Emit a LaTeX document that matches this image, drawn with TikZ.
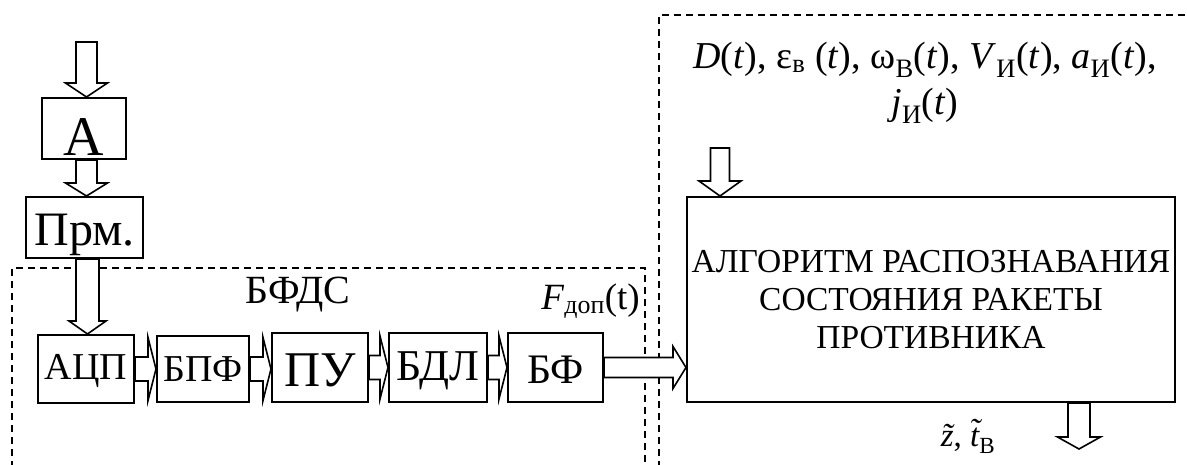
\documentclass[tikz,border=0pt]{standalone}
\usepackage{fontspec}
\setmainfont{Liberation Serif}
\usetikzlibrary{calc}
\tikzset{
  blk/.style={draw, line width=2pt, inner sep=0pt, text depth=0pt},
  arr/.style={draw, line width=1.6pt, fill=white, line join=miter},
  dsh/.style={draw, line width=1.3pt, dash pattern=on 7pt off 5pt},
  lbl/.style={inner sep=0pt},
}
% tilde over a letter
\newcommand\tld[2][0pt]{{\ooalign{#2\cr\hidewidth\raisebox{#1}{˜}\hidewidth\cr}}}
% vertical block arrow: start, tip, shaft half width, head half width, head length
\newcommand\vblock[5]{%
  \path[arr] let \p1=(#1), \p2=(#2) in
    (\x1-#3,\y1) -- (\x1-#3,\y2+#5) -- (\x1-#4,\y2+#5) -- (\x1,\y2)
    -- (\x1+#4,\y2+#5) -- (\x1+#3,\y2+#5) -- (\x1+#3,\y1) -- cycle;}
% horizontal block arrow
\newcommand\hblock[5]{%
  \path[arr] let \p1=(#1), \p2=(#2) in
    (\x1,\y1+#3) -- (\x2-#5,\y1+#3) -- (\x2-#5,\y1+#4) -- (\x2,\y1)
    -- (\x2-#5,\y1-#4) -- (\x2-#5,\y1-#3) -- (\x1,\y1-#3) -- cycle;}
\begin{document}
\begin{tikzpicture}[x=1pt,y=-1pt]
\useasboundingbox (0,0) rectangle (1187,465);
\clip (0,0) rectangle (1187,465);
\fill[white] (0,0) rectangle (1187,465);

% dashed frames
\draw[dsh] (12,480) -- (12,268) -- (645,268) -- (645,480);
\draw[dsh] (659,480) -- (659,15) -- (1200,15);

% blocks
\node[blk, minimum width=84pt, minimum height=61pt, text height=54pt,
      font=\fontsize{56}{60}\selectfont] (A) at (84,128.5) {А};
\node[blk, minimum width=117pt, minimum height=61pt, text height=36pt,
      font=\fontsize{48}{56}\selectfont] (P) at (84.5,227.5) {Прм.};
\node[blk, minimum width=96pt, minimum height=68pt, text height=20pt,
      font=\fontsize{38}{40}\selectfont] (ADC) at (86,369) {АЦП};
\node[blk, minimum width=92pt, minimum height=66pt, text height=25pt,
      font=\fontsize{38}{40}\selectfont] (BPF) at (203,369) {БПФ};
\node[blk, minimum width=96pt, minimum height=69pt, text height=37pt,
      font=\fontsize{50}{56}\selectfont] (PU) at (320,367.5) {ПУ};
\node[blk, minimum width=98pt, minimum height=69pt, text height=27pt,
      font=\fontsize{44}{48}\selectfont] (BDL) at (438,367.5) {БДЛ};
\node[blk, minimum width=95pt, minimum height=69pt, text height=32pt,
      font=\fontsize{42}{46}\selectfont] (BF) at (555.5,367.5) {БФ};
\node[draw, line width=2pt, inner sep=0pt, minimum width=488pt, minimum height=205pt,
      align=center, font=\fontsize{33.5}{38}\selectfont] (ALG) at (931,299.5)
      {АЛГОРИТМ РАСПОЗНАВАНИЯ\\СОСТОЯНИЯ РАКЕТЫ\\ПРОТИВНИКА};

% labels
\node[lbl, font=\fontsize{40}{44}\selectfont] (bfds) at (298,295) {БФДС};
\node[lbl, anchor=east, font=\fontsize{37}{40}\selectfont] (fdop) at (640,301)
      {\textit{F}\textsubscript{доп}(t)};
\node[lbl, align=center, font=\fontsize{38}{46}\selectfont] (par) at (925,83)
      {\textit{D}(\textit{t}), ε\textsubscript{в} (\textit{t}), ω\textsubscript{В}(\textit{t}), \textit{V}\textsubscript{И}(\textit{t}), \textit{a}\textsubscript{И}(\textit{t}),\\
       \textit{j}\textsubscript{И}(\textit{t})};
\node[lbl, font=\fontsize{33}{36}\selectfont] (res) at (968,441)
      {\textit{\tld{z}}, \textit{\tld[5pt]{t}}\textsubscript{В}};

% free ends
\coordinate (inA) at (86.5,42);
\coordinate (inALG) at (720,148);
\coordinate (outALG) at (1079,449);

% arrows
\vblock{inA}{A.north}{10.5pt}{21pt}{14pt}
\vblock{$(A.south)+(2.5,0)$}{P.north}{10.5pt}{21pt}{13pt}
\vblock{$(P.south)+(3,0)$}{ADC.north}{11.5pt}{18.5pt}{13pt}
\hblock{ADC.east}{BPF.west}{12pt}{31.5pt}{8pt}
\hblock{BPF.east}{PU.west}{12pt}{31.5pt}{8pt}
\hblock{PU.east}{BDL.west}{12pt}{31.5pt}{8pt}
\hblock{BDL.east}{BF.west}{12pt}{31.5pt}{8pt}
\hblock{BF.east}{ALG.west}{10pt}{21pt}{13pt}
\vblock{inALG}{ALG.north}{9.5pt}{21pt}{15pt}
\vblock{$(ALG.south)+(148,0)$}{outALG}{11pt}{21.5pt}{12pt}
\end{tikzpicture}
\end{document}
